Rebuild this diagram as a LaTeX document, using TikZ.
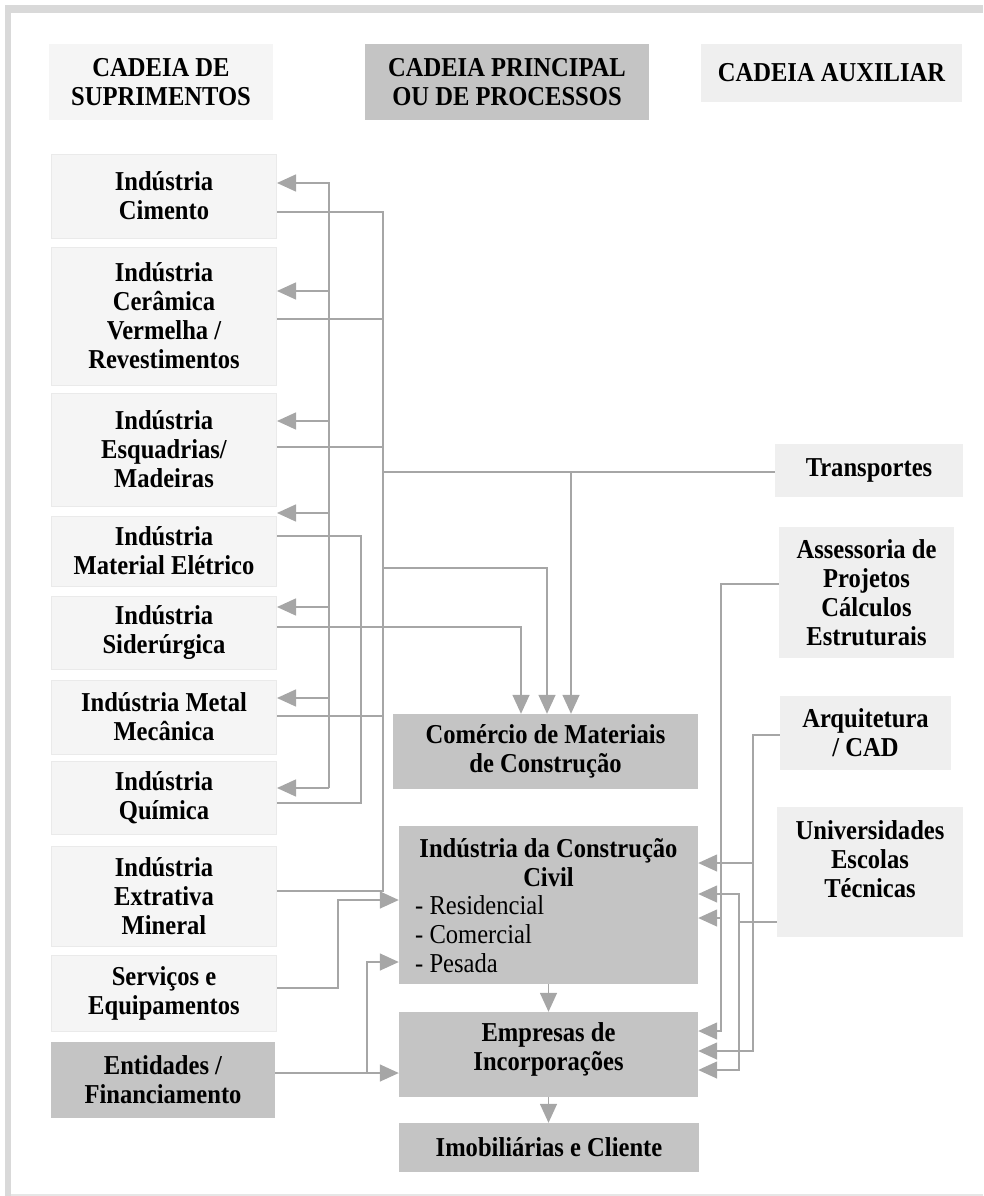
\documentclass[tikz,border=0pt]{standalone}
\usepackage{fontspec}
\setmainfont{Liberation Serif}[FakeStretch=0.9]
\usetikzlibrary{arrows.meta}
\definecolor{framegray}{HTML}{D9D9D9}
\definecolor{bottomgray}{HTML}{E6E6E6}
\definecolor{linegray}{HTML}{A6A6A6}
\definecolor{darkbox}{HTML}{C4C4C4}
\definecolor{lightbox}{HTML}{F5F5F5}
\definecolor{auxfill}{HTML}{EFEFEF}
\definecolor{boxedge}{HTML}{EAEAEA}
\begin{document}
\begin{tikzpicture}[x=1pt,y=-1pt,
  txt/.style={font=\bfseries\fontsize{27.3}{29}\selectfont, align=center, inner sep=0pt, text=black},
  supbox/.style={txt, fill=lightbox, draw=boxedge, line width=1pt, minimum width=225pt},
  mainbox/.style={txt, fill=darkbox},
  auxbox/.style={txt, fill=auxfill},
  conn/.style={draw=linegray, line width=1.5pt},
  arrow/.style={conn, -{Triangle[length=19pt,width=17pt]}}
]
\useasboundingbox (0,0) rectangle (983,1196);

% page frame
\fill[framegray] (5,5) rectangle (983,13);
\fill[framegray] (5,5) rectangle (11,1196);
\draw[bottomgray, line width=1.5pt] (11,1195) -- (983,1195);

% column headings
\node[txt, fill=lightbox, minimum width=224pt, minimum height=76pt] (h1) at (161,82) {CADEIA DE\\SUPRIMENTOS};
\node[txt, fill=darkbox, minimum width=284pt, minimum height=76pt] (h2) at (507,82) {CADEIA PRINCIPAL\\OU DE PROCESSOS};
\node[txt, fill=auxfill, minimum width=261pt, minimum height=58pt] (h3) at (831.5,73) {CADEIA AUXILIAR};

% supply chain
\node[supbox, minimum height=84pt] (cim) at (164,196) {Indústria\\Cimento};
\node[supbox, minimum height=138pt] (cer) at (164,316) {Indústria\\Cerâmica\\Vermelha /\\Revestimentos};
\node[supbox, minimum height=113pt] (esq) at (164,449.5) {Indústria\\Esquadrias/\\Madeiras};
\node[supbox, minimum height=70pt] (ele) at (164,551) {Indústria\\Material Elétrico};
\node[supbox, minimum height=73pt] (sid) at (164,632.5) {Indústria\\Siderúrgica};
\node[supbox, minimum height=74pt] (met) at (164,717) {Indústria Metal\\Mecânica};
\node[supbox, minimum height=73pt] (qui) at (164,797.5) {Indústria\\Química};
\node[supbox, minimum height=100pt] (ext) at (164,896) {Indústria\\Extrativa\\Mineral};
\node[supbox, minimum height=76pt] (ser) at (164,993) {Serviços e\\Equipamentos};
\node[mainbox, minimum width=224pt, minimum height=76pt] (ent) at (163,1080) {Entidades /\\Financiamento};

% main chain
\node[mainbox, minimum width=305pt, minimum height=75pt] (com) at (545.5,751.5) {Comércio de Materiais\\de Construção};
\node[mainbox, minimum width=299pt, minimum height=158pt] (icc) at (548.5,905) {};
\node[txt] (icctitle) at (548.5,862.5) {Indústria da Construção\\Civil};
\node[txt, font=\fontsize{27.3}{29}\selectfont, align=left, anchor=west] (icclist) at (415,934.5) {- Residencial\\- Comercial\\- Pesada};
\node[mainbox, minimum width=299pt, minimum height=85pt] (emp) at (548.5,1054.5) {};
\node[txt] (emptxt) at (548.5,1049) {Empresas de\\Incorporações};
\node[mainbox, minimum width=300pt, minimum height=49pt] (imo) at (549,1147.5) {Imobiliárias e Cliente};

% auxiliary chain
\node[auxbox, minimum width=188pt, minimum height=53pt] (tra) at (869,470.5) {Transportes};
\node[auxbox, minimum width=175pt, minimum height=131pt] (ass) at (866.5,592.5) {Assessoria de\\Projetos\\Cálculos\\Estruturais};
\node[auxbox, minimum width=171pt, minimum height=74pt] (arq) at (865.5,733) {Arquitetura\\/ CAD};
\node[auxbox, minimum width=186pt, minimum height=130pt] (uni) at (870,872) {};
\node[txt] (unitxt) at (870,859) {Universidades\\Escolas\\Técnicas};

% vertical buses
\coordinate (busA) at (329,0);
\coordinate (busB) at (383,0);
\coordinate (busC) at (361,0);
\coordinate (busS) at (338,0);
\coordinate (busE) at (367,0);
\coordinate (busAs) at (721,0);
\coordinate (busU) at (739,0);
\coordinate (busAr) at (753,0);

% return bus feeding the suppliers
\draw[conn] (busA |- 0,182) -- (busA |- 0,788);
\draw[arrow] (busA |- 0,183) -- (cim.east |- 0,183);
\draw[arrow] (busA |- 0,291) -- (cer.east |- 0,291);
\draw[arrow] (busA |- 0,421) -- (esq.east |- 0,421);
\draw[arrow] (busA |- 0,513) -- (ele.east |- 0,513);
\draw[arrow] (busA |- 0,607) -- (sid.east |- 0,607);
\draw[arrow] (busA |- 0,698) -- (met.east |- 0,698);
\draw[arrow] (busA |- 0,788) -- (qui.east |- 0,788);

% supplier outputs
\draw[conn] (cim.east |- 0,212) -- (busB |- 0,212) -- (busB |- 0,891) -- (ext.east |- 0,891);
\draw[conn] (cer.east |- 0,319) -- (busB |- 0,319);
\draw[conn] (esq.east |- 0,447) -- (busB |- 0,447);
\draw[conn] (met.east |- 0,716) -- (busB |- 0,716);
\draw[conn] (ele.east |- 0,536) -| (busC |- 0,803) -- (qui.east |- 0,803);

% into the materials trade
\draw[conn] (tra.west |- 0,472) -- (busB |- 0,472);
\draw[arrow] (571,472) -- (com.north -| 571,0);
\draw[arrow] (busB |- 0,568) -| (com.north -| 547,0);
\draw[arrow] (sid.east |- 0,627) -| (com.north -| 521,0);

% services and financing
\draw[arrow] (ser.east |- 0,988) -| (busS |- 0,900) -- (icc.west |- 0,900);
\draw[arrow] (ent.east |- 0,1073) -- (emp.west |- 0,1073);
\draw[arrow] (busE |- 0,1073) |- (icc.west |- 0,962);

% auxiliary services
\draw[arrow] (ass.west |- 0,584) -| (busAs |- 0,1031) -- (emp.east |- 0,1031);
\draw[arrow] (busAs |- 0,918) -- (icc.east |- 0,918);
\draw[arrow] (arq.west |- 0,735) -| (busAr |- 0,1051) -- (emp.east |- 0,1051);
\draw[arrow] (busAr |- 0,863) -- (icc.east |- 0,863);
\draw[conn] (uni.west |- 0,922) -- (busU |- 0,922);
\draw[arrow] (busU |- 0,922) |- (icc.east |- 0,894);
\draw[arrow] (busU |- 0,922) |- (emp.east |- 0,1070);

% main flow
\draw[arrow] (icc.south) -- (emp.north);
\draw[arrow] (emp.south) -- (emp.south |- imo.north);
\end{tikzpicture}
\end{document}
